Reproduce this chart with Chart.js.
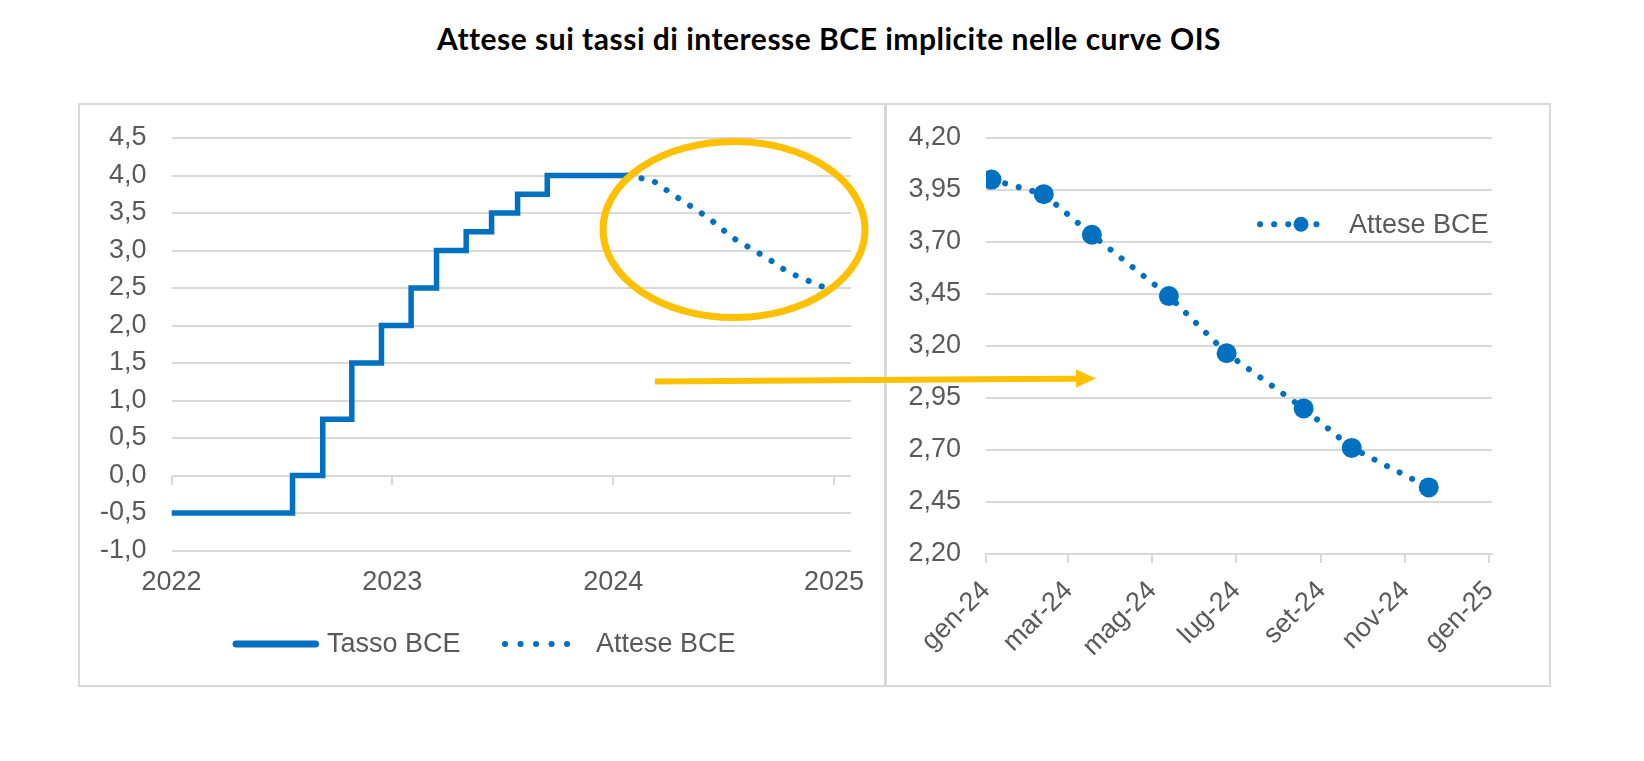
<!DOCTYPE html>
<html lang="it">
<head>
<meta charset="utf-8">
<title>Attese sui tassi di interesse BCE implicite nelle curve OIS</title>
<script src="https://cdn.jsdelivr.net/npm/chart.js@4.4.1/dist/chart.umd.min.js"></script>
<style>
  html, body { margin: 0; padding: 0; background: #fff; }
  body { width: 1644px; height: 761px; position: relative; overflow: hidden; }
  #titolo {
    position: absolute; left: 14px; width: 1630px; top: 20px;
    text-align: center; font: bold 30px/36px Lato, "Open Sans", sans-serif; color: #000;
    letter-spacing: 0.5px; white-space: nowrap;
  }
  .pannello { position: absolute; box-sizing: border-box; border: 2px solid #d9d9d9; }
  #pannelloSx { left: 78px; top: 103px; width: 809px; height: 584px; }
  #pannelloDx { left: 884px; top: 103px; width: 667px; height: 584px; border-left-width: 3px; }
  .grafico { position: absolute; }
  #boxSx { left: 82px; top: 107px; width: 802px; height: 578px; }
  #boxDx { left: 888px; top: 107px; width: 660px; height: 578px; }
  #annotazioni { position: absolute; left: 0; top: 0; pointer-events: none; }
</style>
</head>
<body>
<div id="titolo">Attese sui tassi di interesse BCE implicite nelle curve OIS</div>
<div class="pannello" id="pannelloSx"></div>
<div class="pannello" id="pannelloDx"></div>
<div class="grafico" id="boxSx"><canvas id="graficoSx"></canvas></div>
<div class="grafico" id="boxDx"><canvas id="graficoDx"></canvas></div>
<svg id="annotazioni" width="1644" height="761">
  <ellipse cx="734" cy="229.5" rx="131" ry="88" fill="none" stroke="#ffc000" stroke-width="7"/>
  <line x1="655" y1="381.5" x2="1080" y2="378.7" stroke="#ffc000" stroke-width="6"/>
  <polygon points="1096,378.5 1076,369.5 1076,387.5" fill="#ffc000"/>
</svg>
<script>
// tasso BCE (depositi): data della variazione e nuovo livello
const tassoDate = ['2022-01-01', '2022-07-20', '2022-09-08', '2022-10-26', '2022-12-14', '2023-02-01',
  '2023-03-15', '2023-05-03', '2023-06-14', '2023-07-27', '2023-09-14', '2024-01-25'];
const tassoValori = [-0.5, 0.0, 0.75, 1.5, 2.0, 2.5, 3.0, 3.25, 3.5, 3.75, 4.0, 4.0];

// attese implicite nelle curve OIS (riunioni 2024)
const atteseDate = ['2024-01-25', '2024-03-07', '2024-04-11', '2024-06-06', '2024-07-18', '2024-09-12',
  '2024-10-17', '2024-12-12'];
const atteseDateZoom = ['2024-01-05', '2024-02-12', '2024-03-18', '2024-05-13', '2024-06-24', '2024-08-19',
  '2024-09-23', '2024-11-18'];
const atteseValori = [4.00, 3.93, 3.735, 3.44, 3.165, 2.90, 2.71, 2.52];

// assi
const anniTick = [2022, 2023, 2024, 2025];
const meseTickDate = ['2024-01-01', '2024-03-01', '2024-05-01', '2024-07-01', '2024-09-01', '2024-11-01', '2025-01-01'];
const meseTickEtichette = ['gen-24', 'mar-24', 'mag-24', 'lug-24', 'set-24', 'nov-24', 'gen-25'];

const blu = '#0070c0';
const grigio = '#d9d9d9';

Chart.defaults.font.family = '"Liberation Sans", Arial, sans-serif';
Chart.defaults.font.size = 27;
Chart.defaults.color = '#595959';

// data 'aaaa-mm-gg' -> anno decimale
function anno(d) {
  const [y, m, g] = d.split('-').map(Number);
  const inizio = Date.UTC(y, 0, 1);
  return y + (Date.UTC(y, m - 1, g) - inizio) / (Date.UTC(y + 1, 0, 1) - inizio);
}
const punti = (date, valori) => date.map((d, i) => ({ x: anno(d), y: valori[i] }));

// asse y a larghezza fissa, senza margine extra sopra/sotto
const asseY = larghezza => s => {
  s.width = larghezza;
  s.paddingTop = 0;
  s.paddingBottom = 0;
};

// legenda disegnata a mano (posizioni in px del canvas)
const legendaManuale = {
  id: 'legendaManuale',
  afterDraw(chart, args, opts) {
    const ctx = chart.ctx;
    (opts.voci || []).forEach(v => {
      const ds = chart.data.datasets[v.dataset];
      ctx.save();
      ctx.strokeStyle = ds.borderColor;
      ctx.lineWidth = v.spessore;
      ctx.lineCap = 'round';
      ctx.setLineDash(v.dash || []);
      ctx.beginPath();
      ctx.moveTo(v.x0, v.y);
      ctx.lineTo(v.x1, v.y);
      ctx.stroke();
      if (v.raggio) {
        ctx.fillStyle = ds.borderColor;
        ctx.beginPath();
        ctx.arc(v.xMarker, v.y, v.raggio, 0, Math.PI * 2);
        ctx.fill();
      }
      ctx.fillStyle = '#595959';
      ctx.font = '27px "Liberation Sans", Arial, sans-serif';
      ctx.textAlign = 'left';
      ctx.textBaseline = 'middle';
      ctx.fillText(ds.label, v.xTesto, v.y + 1);
      ctx.restore();
    });
  }
};

const xMinSx = anno('2022-01-01');
const xMaxSx = anno('2025-01-29');
const tickAnni = scale => { scale.ticks = anniTick.map(v => ({ value: v })); };

new Chart(document.getElementById('graficoSx'), {
  type: 'line',
  data: {
    datasets: [{
      label: 'Tasso BCE',
      data: punti(tassoDate, tassoValori),
      stepped: true,
      borderColor: blu,
      borderWidth: 5.5,
      pointRadius: 0
    }, {
      label: 'Attese BCE',
      data: punti(atteseDate, atteseValori),
      borderColor: blu,
      borderWidth: 6,
      borderDash: [0.1, 14],
      borderCapStyle: 'round',
      pointRadius: 0
    }]
  },
  options: {
    responsive: true,
    maintainAspectRatio: false,
    animation: false,
    events: [],
    layout: { padding: { top: 31, right: 33, left: 0, bottom: 0 } },
    plugins: {
      legend: { display: false },
      tooltip: { enabled: false },
      legendaManuale: {
        voci: [
          { dataset: 0, x0: 154, x1: 233.5, y: 537, spessore: 7, xTesto: 245 },
          { dataset: 1, x0: 423, x1: 500, y: 537, spessore: 6, dash: [0.1, 15.4], xTesto: 514 }
        ]
      }
    },
    scales: {
      x: {
        type: 'linear',
        min: xMinSx,
        max: xMaxSx,
        afterBuildTicks: tickAnni,
        afterFit: s => { s.height = 134.5; },
        ticks: { padding: 16, callback: v => String(v), maxRotation: 0, autoSkip: false },
        grid: { display: false, drawTicks: false },
        border: { display: false }
      },
      x2: {
        type: 'linear',
        axis: 'x',
        position: { y: 0 },
        min: xMinSx,
        max: xMaxSx,
        afterBuildTicks: tickAnni,
        ticks: { display: false },
        grid: { drawOnChartArea: false, drawTicks: true, tickLength: 9, color: grigio, lineWidth: 2 },
        border: { display: false }
      },
      y: {
        min: -1,
        max: 4.5,
        afterFit: asseY(89.5),
        ticks: { stepSize: 0.5, padding: 25, callback: v => v.toFixed(1).replace('.', ',') },
        grid: { color: grigio, lineWidth: 2, drawTicks: false },
        border: { display: false }
      }
    }
  },
  plugins: [legendaManuale]
});

new Chart(document.getElementById('graficoDx'), {
  type: 'line',
  data: {
    datasets: [{
      label: 'Attese BCE',
      data: punti(atteseDateZoom, atteseValori),
      borderColor: blu,
      borderWidth: 6,
      borderDash: [0.1, 14],
      borderCapStyle: 'round',
      pointRadius: 10,
      pointBackgroundColor: blu,
      pointBorderWidth: 0
    }]
  },
  options: {
    responsive: true,
    maintainAspectRatio: false,
    animation: false,
    events: [],
    layout: { padding: { top: 31, right: 56, left: 0, bottom: 0 } },
    plugins: {
      legend: { display: false },
      tooltip: { enabled: false },
      legendaManuale: {
        voci: [
          { dataset: 0, x0: 372, x1: 442, y: 117.3, spessore: 6, dash: [0.1, 14], raggio: 7.5, xMarker: 413, xTesto: 461 }
        ]
      }
    },
    scales: {
      x: {
        type: 'linear',
        min: anno('2024-01-01'),
        max: anno('2025-01-03'),
        afterBuildTicks: scale => { scale.ticks = meseTickDate.map(d => ({ value: anno(d) })); },
        afterFit: s => { s.height = 131; },
        ticks: { padding: 12, minRotation: 45, maxRotation: 45, autoSkip: false, callback: (v, i) => meseTickEtichette[i] },
        grid: { drawOnChartArea: false, drawTicks: true, tickLength: 9, color: grigio, lineWidth: 2 },
        border: { display: true, color: grigio, width: 2 }
      },
      y: {
        min: 2.2,
        max: 4.2,
        afterFit: asseY(98),
        ticks: { stepSize: 0.25, padding: 25, callback: v => v.toFixed(2).replace('.', ',') },
        grid: { color: grigio, lineWidth: 2, drawTicks: false },
        border: { display: false }
      }
    }
  },
  plugins: [legendaManuale]
});
</script>
</body>
</html>
